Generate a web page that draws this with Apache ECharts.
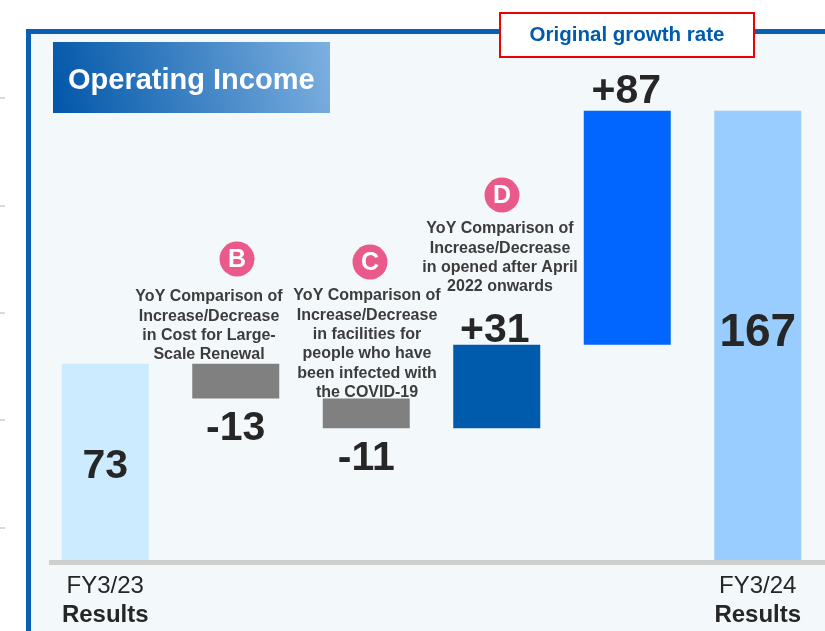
<!DOCTYPE html>
<html>
<head>
<meta charset="utf-8">
<script src="https://cdn.jsdelivr.net/npm/echarts@6/dist/echarts.min.js"></script>
<style>
html,body{margin:0;padding:0;background:#fff;}
#main{width:825px;height:631px;}
</style>
</head>
<body>
<div id="main"></div>
<script>
// ---- data ----
const categories = ['FY3/23 Results', 'Large-Scale Renewal', 'COVID-19 facilities', 'Opened after April 2022', 'Original growth rate', 'FY3/24 Results'];
const axisLabels = ['FY3/23\nResults', '', '', '', '', 'FY3/24\nResults'];
const changes = [73, -13, -11, 31, 87, 167];
const isTotal = [true, false, false, false, false, true];
const valueLabels = ['73', '-13', '-11', '+31', '+87', '167'];
const barColors = ['#CCEBFE', '#808080', '#808080', '#005BAC', '#0066FF', '#99CCFF'];
const annotLetters = ['B', 'C', 'D'];
const annotTexts = [
  'YoY Comparison of\nIncrease/Decrease\nin Cost for Large-\nScale Renewal',
  'YoY Comparison of\nIncrease/Decrease\nin facilities for\npeople who have\nbeen infected with\nthe COVID-19',
  'YoY Comparison of\nIncrease/Decrease\nin opened after April\n2022 onwards'
];
const titleText = 'Operating Income';
const badgeText = 'Original growth rate';

// ---- waterfall geometry from values ----
const baseVals = [], barVals = [];
let running = 0;
changes.forEach((v, i) => {
  if (isTotal[i]) { baseVals.push(0); barVals.push(v); running = v; }
  else if (v >= 0) { baseVals.push(running); barVals.push(v); running += v; }
  else { running += v; baseVals.push(running); barVals.push(-v); }
});

const FONT = '"Liberation Sans", Arial, sans-serif';
const labelPos = [
  { position: 'inside', offset: [0, 5], fontSize: 41 },
  { position: 'bottom', distance: 5, offset: [0, 5], fontSize: 41 },
  { position: 'bottom', distance: 7, offset: [0, 3], fontSize: 41 },
  { position: 'top', distance: 1, offset: [-2, 7], fontSize: 41 },
  { position: 'top', distance: 1, offset: [-1, 2], fontSize: 41 },
  { position: 'inside', offset: [0, -2], fontSize: 46 }
];

const chart = echarts.init(document.getElementById('main'), null, { renderer: 'canvas' });

const annotPos = [
  { cx: 237, cy: 259, tx: 209, ty: 287 },
  { cx: 370, cy: 262, tx: 367, ty: 286 },
  { cx: 502, cy: 195, tx: 500, ty: 219 }
];

const graphics = [];
// frame
graphics.push({ type: 'rect', z: -10, shape: { x: 28.5, y: 31.5, width: 830, height: 700 },
  style: { fill: '#F3F8FB', stroke: '#0A5FB2', lineWidth: 5 } });
// left tick marks
[98, 206, 313, 420, 528].forEach(y => graphics.push({ type: 'line', z: -10,
  shape: { x1: 0, y1: y, x2: 5, y2: y }, style: { stroke: '#DADADA', lineWidth: 2 } }));
// axis base line
graphics.push({ type: 'line', z: 1, shape: { x1: 49, y1: 562.5, x2: 825, y2: 562.5 },
  style: { stroke: '#CFCFCF', lineWidth: 5 } });
// title box
graphics.push({ type: 'rect', z: 50, shape: { x: 53, y: 42, width: 277, height: 71 },
  style: { fill: new echarts.graphic.LinearGradient(0, 1, 1, 0, [
    { offset: 0, color: '#0056A8' }, { offset: 1, color: '#7DB0E0' }]) } });
graphics.push({ type: 'text', z: 51, x: 68, y: 81, style: { text: titleText, fill: '#fff',
  font: 'bold 29px ' + FONT, verticalAlign: 'middle' } });
// badge
graphics.push({ type: 'rect', z: 50, shape: { x: 500, y: 13, width: 254, height: 44 },
  style: { fill: '#fff', stroke: '#F00000', lineWidth: 2 } });
graphics.push({ type: 'text', z: 51, x: 627, y: 35, style: { text: badgeText, fill: '#005BAC',
  font: 'bold 20.5px ' + FONT, align: 'center', verticalAlign: 'middle' } });
// annotations
annotLetters.forEach((L, i) => {
  const p = annotPos[i];
  graphics.push({ type: 'circle', z: 40, shape: { cx: p.cx, cy: p.cy, r: 17.5 }, style: { fill: '#E95A8B' } });
  graphics.push({ type: 'text', z: 41, x: p.cx, y: p.cy + 1, style: { text: L, fill: '#fff',
    font: 'bold 25px ' + FONT, align: 'center', verticalAlign: 'middle' } });
  graphics.push({ type: 'text', z: 41, x: p.tx, y: p.ty, style: { text: annotTexts[i], fill: '#3C3C3C',
    font: 'bold 16px ' + FONT, align: 'center', verticalAlign: 'top', lineHeight: 19.4 } });
});

chart.setOption({
  animation: false,
  backgroundColor: '#fff',
  grid: { left: 40, right: 2, top: 22, bottom: 71, containLabel: false },
  xAxis: {
    type: 'category',
    data: categories,
    axisLine: { show: false },
    axisTick: { show: false },
    axisLabel: {
      interval: 0,
      margin: 12,
      formatter: (v, i) => {
        const t = axisLabels[i];
        if (!t) return '';
        const parts = t.split('\n');
        return '{a|' + parts[0] + '}\n{b|' + parts[1] + '}';
      },
      rich: {
        a: { fontFamily: FONT, fontSize: 24, color: '#262626', lineHeight: 29, align: 'center' },
        b: { fontFamily: FONT, fontSize: 24, fontWeight: 'bold', color: '#262626', lineHeight: 29, align: 'center' }
      }
    }
  },
  yAxis: { type: 'value', min: 0, max: 200, show: false, splitLine: { show: false } },
  series: [
    { type: 'bar', stack: 'w', data: baseVals, barWidth: 87, itemStyle: { color: 'transparent' },
      emphasis: { disabled: true }, silent: true },
    { type: 'bar', stack: 'w', barWidth: 87, z: 3,
      data: barVals.map((v, i) => ({
        value: v,
        itemStyle: { color: barColors[i] },
        label: Object.assign({ show: true, formatter: () => valueLabels[i], color: '#262626',
          fontFamily: FONT, fontWeight: 'bold' }, labelPos[i])
      }))
    }
  ],
  graphic: { elements: graphics }
});
</script>
</body>
</html>
